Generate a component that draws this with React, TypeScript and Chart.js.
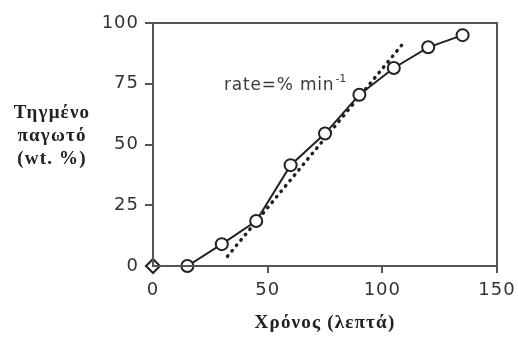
import React, { useEffect, useRef } from "react";
import { Chart, registerables } from "chart.js";

Chart.register(...registerables);

const times = [0, 15, 30, 45, 60, 75, 90, 105, 120, 135];
const melted = [0, 0, 9, 18.5, 41.5, 54.5, 70.5, 81.5, 90, 95];
const fitX = [32.5, 109];
const fitY = [4, 91.5];
const xTicks = [0, 50, 100, 150];
const yTicks = [0, 25, 50, 75, 100];
const yTitleLines = ["Τηγμένο", "παγωτό", "(wt. %)"];
const xTitle = "Χρόνος (λεπτά)";
const rateLabel = "rate=% min";
const rateSup = "-1";

export default function App() {
  const ref = useRef<HTMLCanvasElement | null>(null);
  useEffect(() => {
    if (!ref.current) return;
    const overlay = {
      id: "overlay",
      beforeDraw(chart: any) {
        chart.ctx.letterSpacing = "1px";
      },
      afterDraw(chart: any) {
        const { ctx, chartArea } = chart;
        ctx.save();
        ctx.strokeStyle = "#555";
        ctx.lineWidth = 2;
        ctx.strokeRect(chartArea.left, chartArea.top, chartArea.right - chartArea.left, chartArea.bottom - chartArea.top);
        ctx.fillStyle = "#222";
        ctx.font = "bold 19px 'Liberation Serif', serif";
        ctx.letterSpacing = "1.2px";
        ctx.textAlign = "center";
        ctx.textBaseline = "alphabetic";
        const ys = [118, 141, 164];
        yTitleLines.forEach((t, i) => ctx.fillText(t, 52, ys[i]));
        ctx.fillText(xTitle, 325, 328);
        ctx.fillStyle = "#3a3a3a";
        ctx.font = "17px 'DejaVu Sans', sans-serif";
        ctx.letterSpacing = "0.8px";
        ctx.textAlign = "left";
        ctx.fillText(rateLabel, 224, 90);
        const w = ctx.measureText(rateLabel).width;
        ctx.font = "11px 'DejaVu Sans', sans-serif";
        ctx.letterSpacing = "0px";
        ctx.fillText(rateSup, 224 + w + 1, 82);
        ctx.restore();
      },
    };
    const tickFont = { family: "'DejaVu Sans', sans-serif", size: 18 };
    const chart = new Chart(ref.current, {
      type: "scatter",
      data: {
        datasets: [
          {
            data: fitX.map((x, i) => ({ x, y: fitY[i] })),
            showLine: true,
            borderColor: "#222",
            borderWidth: 3.5,
            borderDash: [0.5, 6.5],
            borderCapStyle: "round",
            pointRadius: 0,
            order: 2,
          },
          {
            data: times.map((x, i) => ({ x, y: melted[i] })),
            showLine: true,
            borderColor: "#222",
            borderWidth: 2,
            pointRadius: times.map((_, i) => (i === 0 ? 7 : 6)) as any,
            pointStyle: times.map((_, i) => (i === 0 ? "rectRot" : "circle")) as any,
            pointBackgroundColor: "#fff",
            pointBorderColor: "#222",
            pointBorderWidth: 2,
            clip: false as any,
            order: 1,
          },
        ],
      },
      options: {
        animation: false,
        responsive: false,
        plugins: { legend: { display: false }, tooltip: { enabled: false } },
        layout: { padding: { left: 0, right: 21, top: 23, bottom: 0 } },
        scales: {
          x: {
            type: "linear",
            min: 0,
            max: 150,
            afterFit: (s: any) => { s.height = 75; s.paddingRight = 0; s.paddingLeft = 0; },
            afterBuildTicks: (s: any) => { s.ticks = xTicks.map((v) => ({ value: v })); },
            grid: { display: true, drawOnChartArea: false, drawTicks: true, tickLength: 7, color: "#555", lineWidth: 2 },
            border: { display: true, color: "#555", width: 2 },
            ticks: { color: "#333", font: tickFont, padding: 7, maxRotation: 0 },
          },
          y: {
            type: "linear",
            min: 0,
            max: 100,
            afterFit: (s: any) => { s.width = 153; s.paddingTop = 0; s.paddingBottom = 0; },
            afterBuildTicks: (s: any) => { s.ticks = yTicks.map((v) => ({ value: v })); },
            grid: { display: true, drawOnChartArea: false, drawTicks: true, tickLength: 8, color: "#555", lineWidth: 2 },
            border: { display: true, color: "#555", width: 2 },
            ticks: { color: "#333", font: tickFont, padding: 6 },
          },
        },
      },
      plugins: [overlay],
    } as any);
    return () => chart.destroy();
  }, []);
  return (
    <div style={{ position: "fixed", left: 0, top: 0, width: 518, height: 341, background: "#fff" }}>
      <canvas ref={ref} width={518} height={341} style={{ width: 518, height: 341 }} />
    </div>
  );
}
